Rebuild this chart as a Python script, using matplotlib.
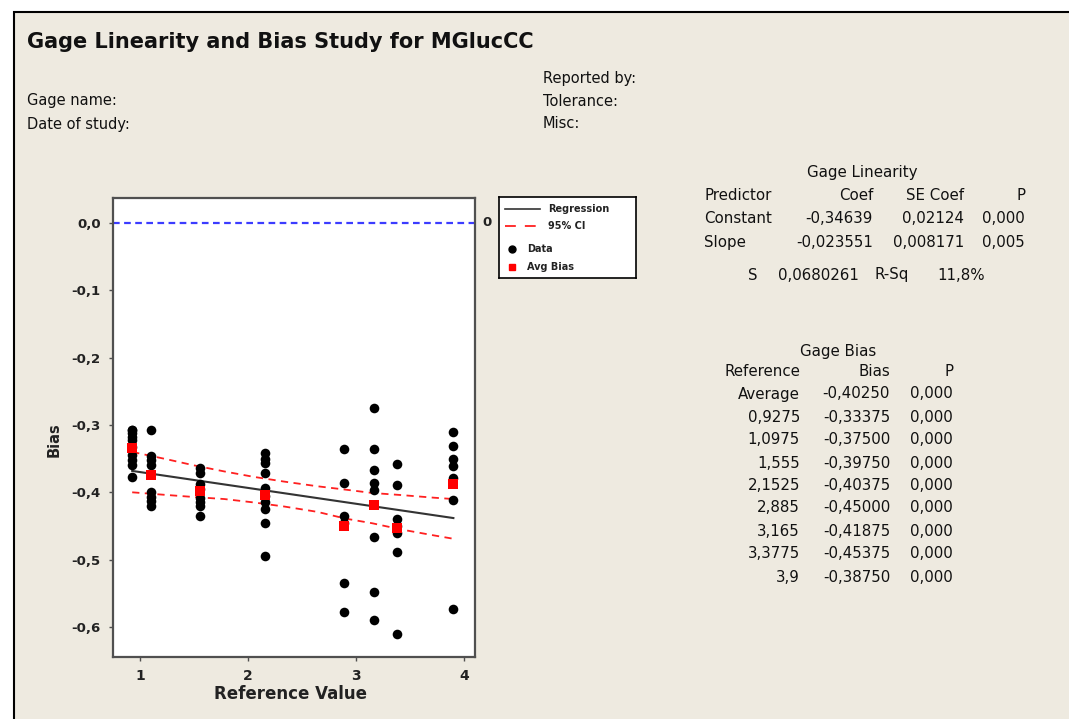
import matplotlib
matplotlib.use("Agg")
import matplotlib.pyplot as plt
import matplotlib.transforms as mtransforms
from matplotlib.patches import Rectangle
from matplotlib.lines import Line2D

W, H = 1069, 719
BG = "#EEEAE0"

# reference values and measured bias per part
ref_values = [0.9275, 1.0975, 1.555, 2.1525, 2.885, 3.165, 3.3775, 3.9]
bias_data = [
    [-0.308, -0.308, -0.312, -0.318, -0.322, -0.333, -0.345, -0.352, -0.360, -0.378],
    [-0.308, -0.346, -0.352, -0.359, -0.399, -0.407, -0.413, -0.420],
    [-0.364, -0.372, -0.387, -0.395, -0.408, -0.415, -0.421, -0.435],
    [-0.342, -0.350, -0.357, -0.372, -0.394, -0.405, -0.414, -0.425, -0.445, -0.495],
    [-0.336, -0.386, -0.435, -0.445, -0.535, -0.578],
    [-0.275, -0.336, -0.367, -0.386, -0.396, -0.466, -0.548, -0.589],
    [-0.358, -0.389, -0.439, -0.450, -0.461, -0.488, -0.611],
    [-0.311, -0.331, -0.351, -0.361, -0.379, -0.412, -0.573],
]
avg_bias = [-0.33375, -0.375, -0.3975, -0.40375, -0.45, -0.41875, -0.45375, -0.3875]

coef_const = -0.34639
coef_slope = -0.023551

# 95% CI band
ci_x = [0.9275, 1.25, 1.5, 1.78, 2.05, 2.33, 2.64, 2.90, 3.15, 3.41, 3.72, 3.9]
ci_upper = [-0.340, -0.351, -0.360, -0.369, -0.377, -0.384, -0.391, -0.396, -0.401, -0.404, -0.408, -0.410]
ci_lower = [-0.400, -0.404, -0.407, -0.410, -0.415, -0.421, -0.429, -0.439, -0.446, -0.455, -0.464, -0.469]

y_ticks = [0.0, -0.1, -0.2, -0.3, -0.4, -0.5, -0.6]
y_tick_labels = ["0,0", "-0,1", "-0,2", "-0,3", "-0,4", "-0,5", "-0,6"]
x_ticks = [1, 2, 3, 4]

lin_header = ["Predictor", "Coef", "SE Coef", "P"]
lin_predictors = ["Constant", "Slope"]
lin_coef = ["-0,34639", "-0,023551"]
lin_se = ["0,02124", "0,008171"]
lin_p = ["0,000", "0,005"]

bias_header = ["Reference", "Bias", "P"]
bias_refs = ["Average", "0,9275", "1,0975", "1,555", "2,1525", "2,885", "3,165", "3,3775", "3,9"]
bias_vals = ["-0,40250", "-0,33375", "-0,37500", "-0,39750", "-0,40375",
             "-0,45000", "-0,41875", "-0,45375", "-0,38750"]
bias_p = ["0,000"] * 9

plt.rcParams["font.family"] = ["DejaVu Sans"]


def fx(x):
    return x / W


def fy(y):
    return 1 - y / H


fig = plt.figure(figsize=(W / 100, H / 100), dpi=100, facecolor="white")
fig.patches.append(Rectangle((fx(14), -0.05), 1.1, fy(12) + 0.05, transform=fig.transFigure,
                             facecolor=BG, edgecolor="black", lw=1.5, zorder=-10))

# header text
fig.text(fx(27), fy(42), "Gage Linearity and Bias Study for MGlucCC",
         fontsize=15, fontweight="bold", va="center", ha="left", color="#111111")
hfs = 10.5
for label, y in [("Gage name:", 101), ("Date of study:", 124)]:
    fig.text(fx(27), fy(y), label, fontsize=hfs, va="center", ha="left", color="#111111")
for label, y in [("Reported by:", 78), ("Tolerance:", 101), ("Misc:", 124)]:
    fig.text(fx(543), fy(y), label, fontsize=hfs, va="center", ha="left", color="#111111")

# main plot
ax = fig.add_axes([fx(113), fy(657), (475 - 113) / W, (657 - 198) / H])
ax.set_facecolor("white")
ax.set_xlim(0.75, 4.10)
ax.set_ylim(-0.6446, 0.0371)

ax.axhline(0, color="#3c3cff", ls=(0, (3, 2)), lw=1.6, zorder=1)
ax.plot(ci_x, ci_upper, color="#ff2020", ls=(0, (4, 3)), lw=1.3, zorder=2)
ax.plot(ci_x, ci_lower, color="#ff2020", ls=(0, (4, 3)), lw=1.3, zorder=2)
x_line = [ref_values[0], ref_values[-1]]
ax.plot(x_line, [coef_const + coef_slope * x for x in x_line], color="#333333", lw=1.5, zorder=2)

for x, vals in zip(ref_values, bias_data):
    ax.scatter([x] * len(vals), vals, s=48, color="black", linewidths=0, zorder=3)
ax.scatter(ref_values, avg_bias, marker="s", s=58, color="#ff0000", linewidths=0, zorder=4)

ax.set_yticks(y_ticks)
ax.set_yticklabels(y_tick_labels, fontsize=9.5, fontweight="bold", color="#222222")
ax.set_xticks(x_ticks)
ax.set_xticklabels([str(t) for t in x_ticks], fontsize=10, fontweight="bold", color="#222222")
ax.tick_params(direction="out", length=3, width=1, color="#505050", pad=6)
for s in ax.spines.values():
    s.set_color("#505050")
    s.set_linewidth(1.6)

trans = mtransforms.blended_transform_factory(ax.transAxes, ax.transData)
ax.text(1.033, 0, "0", transform=trans, fontsize=9.5, fontweight="bold", va="center", ha="center",
        color="#222222")

fig.text(fx(290), fy(694), "Reference Value", fontsize=12, fontweight="bold",
         ha="center", va="center", color="#222222")
fig.text(fx(54), fy(440), "Bias", fontsize=10.5, fontweight="bold", rotation=90,
         ha="center", va="center", color="#222222")

# legend box
lax = fig.add_axes([fx(499), fy(278), 137 / W, 81 / H])
lax.set_xlim(0, 137)
lax.set_ylim(81, 0)
lax.set_xticks([])
lax.set_yticks([])
for s in lax.spines.values():
    s.set_color("black")
    s.set_linewidth(1.2)
lax.add_line(Line2D([6, 41], [12, 12], color="#333333", lw=1.2))
lax.add_line(Line2D([6, 41], [29, 29], color="#ff2020", lw=1.3, ls=(0, (6, 5))))
lax.plot([13], [52], "o", color="black", ms=5)
lax.plot([13], [70], "s", color="#ff0000", ms=5)
for txt, x, y in [("Regression", 49, 12), ("95% CI", 49, 29), ("Data", 28, 52), ("Avg Bias", 28, 70)]:
    lax.text(x, y, txt, fontsize=7, fontweight="bold", va="center", ha="left", color="#222222")

# Gage Linearity table
tc = "#111111"
fs = 10.8
fig.text(fx(862), fy(173), "Gage Linearity", fontsize=fs, ha="center", va="center", color=tc)
lin_cols = [(704, "left"), (873, "right"), (964, "right"), (1025, "right")]
for (x, ha), txt in zip(lin_cols, lin_header):
    fig.text(fx(x), fy(195), txt, fontsize=fs, ha=ha, va="center", color=tc)
for i, row_y in enumerate([218, 242]):
    row = [lin_predictors[i], lin_coef[i], lin_se[i], lin_p[i]]
    for (x, ha), txt in zip(lin_cols, row):
        fig.text(fx(x), fy(row_y), txt, fontsize=fs, ha=ha, va="center", color=tc)
fig.text(fx(753), fy(275), "S", fontsize=fs, ha="center", va="center", color=tc)
fig.text(fx(778), fy(275), "0,0680261", fontsize=fs, ha="left", va="center", color=tc)
fig.text(fx(875), fy(275), "R-Sq", fontsize=fs, ha="left", va="center", color=tc)
fig.text(fx(985), fy(275), "11,8%", fontsize=fs, ha="right", va="center", color=tc)

# Gage Bias table
fig.text(fx(838), fy(352), "Gage Bias", fontsize=fs, ha="center", va="center", color=tc)
bias_cols = [800, 890, 953]
for x, txt in zip(bias_cols, bias_header):
    fig.text(fx(x), fy(372), txt, fontsize=fs, ha="right", va="center", color=tc)
row_ys = [394, 417, 440, 463, 486, 508, 531, 554, 577]
for y, r, b, p in zip(row_ys, bias_refs, bias_vals, bias_p):
    for x, txt in zip(bias_cols, [r, b, p]):
        fig.text(fx(x), fy(y), txt, fontsize=fs, ha="right", va="center", color=tc)

fig.savefig("out.png", dpi=100, facecolor=fig.get_facecolor())
